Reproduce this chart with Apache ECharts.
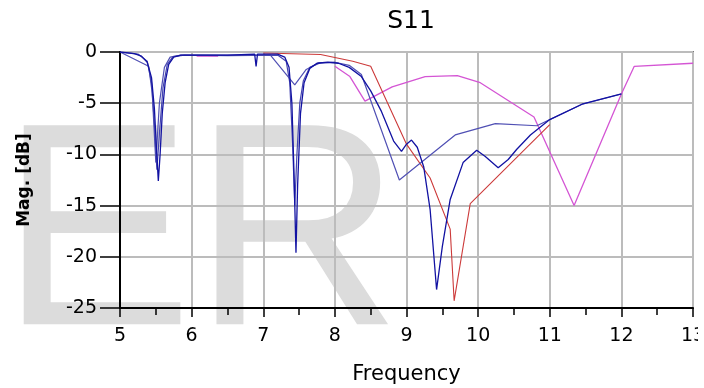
<!DOCTYPE html>
<html>
<head>
<meta charset="utf-8">
<script src="https://cdn.jsdelivr.net/npm/echarts@6/dist/echarts.min.js"></script>
<style>html,body{margin:0;padding:0;background:#fff;}#chart{width:704px;height:388px;}</style>
</head>
<body>
<div id="chart"></div>
<script>
// ---- data ----
const xTicks = [5, 6, 7, 8, 9, 10, 11, 12, 13];
const yTicks = [0, -5, -10, -15, -20, -25];

const freqF1 = [5.0, 5.2, 5.3, 5.38, 5.44, 5.48, 5.51, 5.535, 5.56, 5.59, 5.63, 5.68, 5.75, 5.85, 6.5, 6.88, 6.9, 6.92, 7.2, 7.3, 7.36, 7.4, 7.43, 7.457, 7.48, 7.52, 7.57, 7.65, 7.75, 7.9, 8.05, 8.2, 8.37, 8.5, 8.65, 8.82, 8.93, 9.0, 9.07, 9.15, 9.24, 9.33, 9.42, 9.5, 9.61, 9.79, 9.98, 10.1, 10.28, 10.42, 10.54, 10.73, 11.0, 11.45, 12.0];
const magF1  = [0, -0.15, -0.4, -1.0, -2.5, -5.5, -9.5, -12.6, -10, -6, -3, -1.2, -0.5, -0.3, -0.3, -0.2, -1.4, -0.2, -0.2, -0.5, -1.5, -5, -12, -19.6, -13, -6, -3, -1.6, -1.1, -1.0, -1.1, -1.5, -2.4, -3.8, -5.8, -8.7, -9.7, -9.0, -8.6, -9.3, -11.2, -15.4, -23.2, -19, -14.4, -10.8, -9.6, -10.2, -11.3, -10.5, -9.5, -8.1, -6.6, -5.1, -4.1];

const freqF2 = [5.0, 5.25, 5.38, 5.44, 5.48, 5.515, 5.55, 5.6, 5.66, 5.74, 5.9, 6.5, 7.2, 7.32, 7.37, 7.41, 7.44, 7.47, 7.51, 7.56, 7.65, 7.8, 8.0];
const magF2  = [0, -0.2, -0.9, -3.0, -7, -11.5, -8, -3.5, -1.2, -0.45, -0.3, -0.35, -0.3, -0.9, -3, -9, -15, -10, -5, -2.8, -1.5, -1.05, -1.0];

const freqC = [5.0, 5.4, 5.45, 5.5, 5.55, 5.62, 5.7, 5.85, 7.1, 7.44, 7.6, 7.77, 8.0, 8.2, 8.37, 8.9, 9.68, 10.24, 10.82, 11.45, 12.0];
const magC  = [0, -1.4, -4, -10.8, -5, -1.5, -0.5, -0.3, -0.3, -3.2, -1.7, -1.07, -1.0, -1.3, -2.2, -12.5, -8.1, -7.0, -7.2, -5.1, -4.1];

const freqRed = [7.0, 7.8, 8.25, 8.5, 9.0, 9.33, 9.61, 9.665, 9.89, 11.0];
const magRed  = [-0.1, -0.25, -0.9, -1.4, -9.0, -12.3, -17.3, -24.3, -14.8, -7.1];

const freqMag = [6.07, 6.37, 6.5, 8.0, 8.21, 8.42, 8.8, 9.26, 9.71, 10.03, 10.78, 11.34, 12.0, 12.18, 13.0];
const magMag  = [-0.4, -0.4, '-', -1.4, -2.4, -4.8, -3.4, -2.4, -2.3, -3.0, -6.35, -15.0, -4.1, -1.4, -1.1];

function zip(xs, ys) { return xs.map((x, i) => [x, ys[i]]); }

const FONT = '"DejaVu Sans", sans-serif';
const chart = echarts.init(document.getElementById('chart'), null, {renderer: 'canvas'});

function lineSeries(name, xs, ys, color, width, z) {
  return {
    name: name, type: 'line', data: zip(xs, ys), showSymbol: false, symbol: 'none',
    connectNulls: false, animation: false, z: z,
    lineStyle: {color: color, width: width}, itemStyle: {color: color}
  };
}

chart.setOption({
  animation: false,
  backgroundColor: '#fff',
  title: {
    text: 'S11', left: 406, top: 4, textAlign: 'center',
    textStyle: {fontFamily: FONT, fontSize: 25, fontWeight: 'normal', color: '#000'}
  },
  graphic: [
    {type: 'text', z: -10, silent: true, left: 0, top: 100,
     style: {text: 'ER', font: '289px "Liberation Sans", Arial, sans-serif', fill: '#dcdcdc'}},
    {type: 'rect', z: 100, silent: true, shape: {x: 698, y: 318, width: 6, height: 34}, style: {fill: '#fff'}}
  ],
  grid: {left: 120, right: 11, top: 52, bottom: 80, containLabel: false, outerBoundsMode: 'none',
    show: true, borderColor: '#111', borderWidth: 1.5, backgroundColor: 'transparent'},
  xAxis: {
    type: 'value', min: xTicks[0], max: xTicks[xTicks.length - 1], interval: 1,
    name: 'Frequency', nameLocation: 'middle', nameGap: 56,
    nameTextStyle: {fontFamily: FONT, fontSize: 21, color: '#000'},
    axisLine: {show: true, onZero: false, lineStyle: {color: '#000', width: 2}},
    axisTick: {show: true, inside: false, length: 9, lineStyle: {color: '#000', width: 1.5}},
    minorTick: {show: true, splitNumber: 2, length: 7, lineStyle: {color: '#000', width: 1.5}},
    axisLabel: {fontFamily: FONT, fontSize: 19, color: '#000', margin: 19,
      customValues: xTicks},
    splitLine: {show: true, lineStyle: {color: '#bcbcbc', width: 2}}
  },
  yAxis: {
    type: 'value', min: yTicks[yTicks.length - 1], max: yTicks[0], interval: 5,
    name: 'Mag. [dB]', nameLocation: 'middle', nameGap: 87, nameRotate: 90,
    nameTextStyle: {fontFamily: FONT, fontSize: 17, fontWeight: 'bold', color: '#000'},
    axisLine: {show: true, onZero: false, lineStyle: {color: '#000', width: 2}},
    axisTick: {show: true, inside: false, length: 20, lineStyle: {color: '#000', width: 1.5}},
    axisLabel: {fontFamily: FONT, fontSize: 19, color: '#000', margin: 23},
    splitLine: {show: true, lineStyle: {color: '#bcbcbc', width: 2}}
  },
  series: [
    lineSeries('magenta', freqMag, magMag, '#d455d4', 1.3, 2),
    lineSeries('red', freqRed, magRed, '#cc3a3a', 1.1, 3),
    lineSeries('coarse', freqC, magC, '#5050b4', 1.2, 4),
    lineSeries('fine2', freqF2, magF2, '#4646b0', 1.2, 5),
    lineSeries('fine1', freqF1, magF1, '#1212a2', 1.3, 6)
  ]
});
</script>
</body>
</html>
